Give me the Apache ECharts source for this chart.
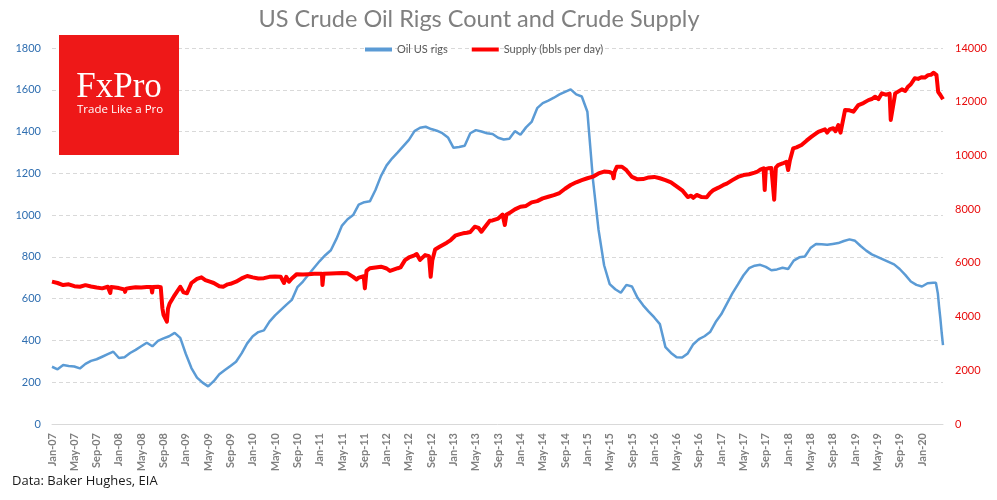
<!DOCTYPE html>
<html><head><meta charset="utf-8">
<script src="https://cdn.jsdelivr.net/npm/echarts@6/dist/echarts.min.js"></script>
<style>html,body{margin:0;padding:0;background:#fff}#c{width:997px;height:500px}</style>
</head><body><div id="c"></div>
<script>
// x = months since Jan-07
const tickLabels = ["Jan-07","May-07","Sep-07","Jan-08","May-08","Sep-08","Jan-09","May-09","Sep-09","Jan-10","May-10","Sep-10","Jan-11","May-11","Sep-11","Jan-12","May-12","Sep-12","Jan-13","May-13","Sep-13","Jan-14","May-14","Sep-14","Jan-15","May-15","Sep-15","Jan-16","May-16","Sep-16","Jan-17","May-17","Sep-17","Jan-18","May-18","Sep-18","Jan-19","May-19","Sep-19","Jan-20"];

const rigPoints = [
[0,274],[1,262],[2,282],[3,278],[4,275],[5,266],[6,288],[7,302],[8,310],[9,322],[10,334],[11,346],
[12,316],[13,320],[14,340],[15,355],[16,372],[17,389],[18,372],[19,398],[20,410],[21,420],[22,436],[23,412],
[24,335],[25,268],[26,222],[27,198],[28,180],[29,205],[30,238],[31,258],[32,278],[33,298],[34,338],[35,386],
[36,420],[37,440],[38,448],[39,490],[40,520],[41,545],[42,570],[43,594],[44,655],[45,682],[46,716],[47,748],
[48,780],[49,808],[50,832],[51,886],[52,950],[53,980],[54,1000],[55,1050],[56,1062],[57,1066],[58,1120],[59,1188],
[60,1238],[61,1272],[62,1300],[63,1330],[64,1360],[65,1402],[66,1418],[67,1423],[68,1412],[69,1404],[70,1392],[71,1372],
[72,1322],[73,1326],[74,1332],[75,1392],[76,1407],[77,1400],[78,1392],[79,1388],[80,1370],[81,1362],[82,1366],[83,1402],
[84,1385],[85,1420],[86,1446],[87,1512],[88,1536],[89,1548],[90,1562],[91,1578],[92,1590],[93,1602],[94,1578],[95,1568],
[96,1495],[97,1170],[98,930],[99,760],[100,670],[101,645],[102,628],[103,666],[104,658],[105,604],[106,568],[107,538],
[108,510],[109,478],[110,368],[111,340],[112,320],[113,318],[114,338],[115,382],[116,406],[117,420],[118,440],[119,488],
[120,525],[121,575],[122,625],[123,668],[124,712],[125,746],[126,758],[127,762],[128,752],[129,736],[130,740],[131,748],
[132,742],[133,782],[134,798],[135,802],[136,842],[137,862],[138,860],[139,858],[140,862],[141,866],[142,876],[143,884],
[144,877],[145,852],[146,830],[147,812],[148,800],[149,788],[150,776],[151,764],[152,742],[153,714],[154,682],[155,666],
[156,658],[157,674],[158,676],[158.5,676],[158.85,624],[159.07,562],[159.3,504],[159.53,438],[159.77,378]
];

const supplyPoints = [
[0,5300],[1,5250],[2,5175],[3,5200],[4,5130],[5,5110],[6,5170],[7,5120],[8,5080],[9,5050],[10,5110],[10.3,5100],
[10.45,4880],[10.6,5100],[11,5090],[12,5060],[13,5010],[13.1,4920],[13.3,5040],[14,5060],[15,5090],[16,5080],
[17,5100],[17.8,5100],[17.95,4900],[18.1,5100],[19,5110],[19.5,5090],[19.8,4300],[20.0,4060],
[20.3,4000],[20.6,3810],[20.8,4300],[21.1,4490],[22,4800],[23,5110],[23.6,4900],[24.2,4870],[25,5250],[26,5400],
[26.8,5460],[27.5,5360],[28.3,5300],[29,5250],[30,5130],[30.7,5110],[31.5,5200],[32,5220],[33,5300],[34,5420],
[35,5510],[36,5460],[37,5420],[38,5430],[39,5480],[40,5490],[41,5480],[41.6,5250],[42,5480],[42.5,5300],[43,5420],
[43.9,5580],[45,5570],[46,5580],[47,5590],[48,5590],[48.4,5590],[48.5,5175],[48.7,5590],[49,5600],[50,5600],
[51,5610],[52,5620],[53,5610],[54,5480],[54.6,5380],[55,5450],[55.9,5500],[56.1,5050],[56.4,5700],[57,5800],
[58,5830],[59,5857],[60,5790],[60.6,5700],[61,5730],[62,5800],[62.5,5830],[63.3,6100],[64,6200],[65,6280],
[65.4,6330],[66,6110],[66.9,6290],[67.6,6250],[67.9,5480],[68.2,6100],[68.7,6500],[69.5,6600],[70.8,6750],
[71.5,6850],[72.3,7010],[73,7060],[73.7,7100],[74.4,7120],[75,7150],[75.8,7346],[76.5,7300],[77,7160],[77.5,7300],
[78.5,7570],[79,7580],[80,7650],[80.8,7800],[81.2,7410],[81.5,7800],[82,7850],[83,7990],[84,8090],[85,8120],
[86,8250],[87,8300],[88,8400],[89,8460],[90,8520],[91,8600],[92,8760],[93,8900],[94,9000],[95,9080],[96,9150],
[97,9210],[98,9330],[99,9400],[100,9380],[100.5,9330],[100.7,9150],[100.9,9400],[101.3,9580],[102.2,9580],
[103,9450],[104,9200],[105,9110],[106,9120],[107,9180],[108,9200],[109,9150],[110,9080],[111,9000],[112,8850],
[113,8700],[114,8450],[114.6,8500],[115,8420],[115.6,8530],[116.5,8450],[117.4,8440],[118,8600],[118.6,8710],
[119.5,8800],[120.4,8900],[121,8950],[122,9080],[123,9200],[124,9270],[125,9300],[126,9360],[126.5,9400],
[127,9470],[127.6,9520],[127.8,8712],[128.0,9500],[128.4,9520],[129,9530],[129.3,9520],[129.5,8350],[129.8,9550],
[130.2,9640],[131,9700],[131.7,9765],[132,9456],[132.3,9800],[132.9,10260],[133.5,10300],[134.4,10390],
[135.3,10550],[136.2,10700],[137.4,10880],[138.6,10970],[139,10850],[139.5,10980],[140.1,11010],[140.5,10900],
[141,11130],[141.4,10850],[141.7,10850],[142.2,11690],[143,11680],[143.7,11627],[144.6,11876],[145.5,11950],
[146.4,12060],[147,12100],[147.6,12186],[148.2,12100],[148.8,12310],[149.5,12260],[150.2,12300],[150.4,11320],
[150.7,11320],[151.2,12310],[152.4,12460],[153,12400],[153.5,12560],[154,12650],[154.7,12870],[155.3,12850],
[155.9,12910],[156.5,12900],[157.1,12990],[157.6,13000],[158.1,13080],[158.4,13050],[158.6,12990],[158.9,12370],
[159.3,12250],[159.77,12090]
];

const FONT = 'Lato, "Open Sans", sans-serif';
const plain = function (v) { return String(v); };
const chart = echarts.init(document.getElementById('c'), null, {renderer: 'canvas'});
chart.setOption({
  animation: false,
  backgroundColor: '#ffffff',
  grid: {left: 52, right: 54, top: 48, bottom: 76, containLabel: false},
  legend: {
    left: 360, top: 39, itemWidth: 27, itemHeight: 4, itemGap: 24, icon: 'rect',
    textStyle: {fontSize: 11, color: '#595959', fontFamily: FONT},
    data: ['Oil US rigs', 'Supply (bbls per day)']
  },
  xAxis: {
    type: 'value', min: 0, max: 159.77, interval: 4,
    axisLine: {show: true, lineStyle: {color: '#D9D9D9', width: 1}},
    axisTick: {show: false}, splitLine: {show: false},
    axisLabel: {
      rotate: 90, margin: 9, color: '#7F7F7F', fontSize: 11, fontWeight: 'bold', fontFamily: FONT,
      showMaxLabel: false,
      formatter: function (v) { return (v % 4 === 0 && tickLabels[v / 4]) ? tickLabels[v / 4] : ''; }
    }
  },
  yAxis: [
    {
      type: 'value', min: 0, max: 1800, interval: 200, position: 'left',
      axisLine: {show: false}, axisTick: {show: false},
      splitLine: {show: true, lineStyle: {color: '#D9D9D9', type: [4, 3], width: 1}},
      axisLabel: {color: '#2F6EB0', fontSize: 11, margin: 11, fontFamily: FONT, formatter: plain}
    },
    {
      type: 'value', min: 0, max: 14000, interval: 2000, position: 'right',
      axisLine: {show: false}, axisTick: {show: false}, splitLine: {show: false},
      axisLabel: {color: '#E80C0C', fontSize: 11, margin: 12, fontFamily: FONT, formatter: plain}
    }
  ],
  series: [
    {
      name: 'Oil US rigs', type: 'line', yAxisIndex: 0, data: rigPoints,
      showSymbol: false, symbol: 'none', z: 2,
      lineStyle: {color: '#5B9BD5', width: 2.5}, itemStyle: {color: '#5B9BD5'}
    },
    {
      name: 'Supply (bbls per day)', type: 'line', yAxisIndex: 1, data: supplyPoints,
      showSymbol: false, symbol: 'none', z: 3,
      lineStyle: {color: '#FF0000', width: 4, join: 'round'}, itemStyle: {color: '#FF0000'}
    }
  ],
  graphic: [
    {type: 'text', z: 100, x: 479, y: 19, style: {text: 'US Crude Oil Rigs Count and Crude Supply', textAlign: 'center', textVerticalAlign: 'middle', font: '23.5px ' + FONT, fill: '#808080'}},
    {type: 'rect', z: 100, shape: {x: 59, y: 35, width: 120, height: 120}, style: {fill: '#EE1818'}},
    {type: 'text', z: 101, x: 119, y: 88, style: {text: 'FxPro', textAlign: 'center', textVerticalAlign: 'middle', font: '35px "Liberation Serif", "DejaVu Serif", serif', fill: '#ffffff'}},
    {type: 'text', z: 101, x: 77, y: 110, style: {text: 'Trade Like a Pro', textAlign: 'left', textVerticalAlign: 'middle', font: '11.5px "Open Sans", sans-serif', fill: '#ffffff'}},
    {type: 'text', z: 100, x: 12, y: 481, style: {text: 'Data: Baker Hughes, EIA', textAlign: 'left', textVerticalAlign: 'middle', font: '13px "Open Sans", sans-serif', fill: '#1a1a1a'}}
  ]
});
</script>
</body></html>
